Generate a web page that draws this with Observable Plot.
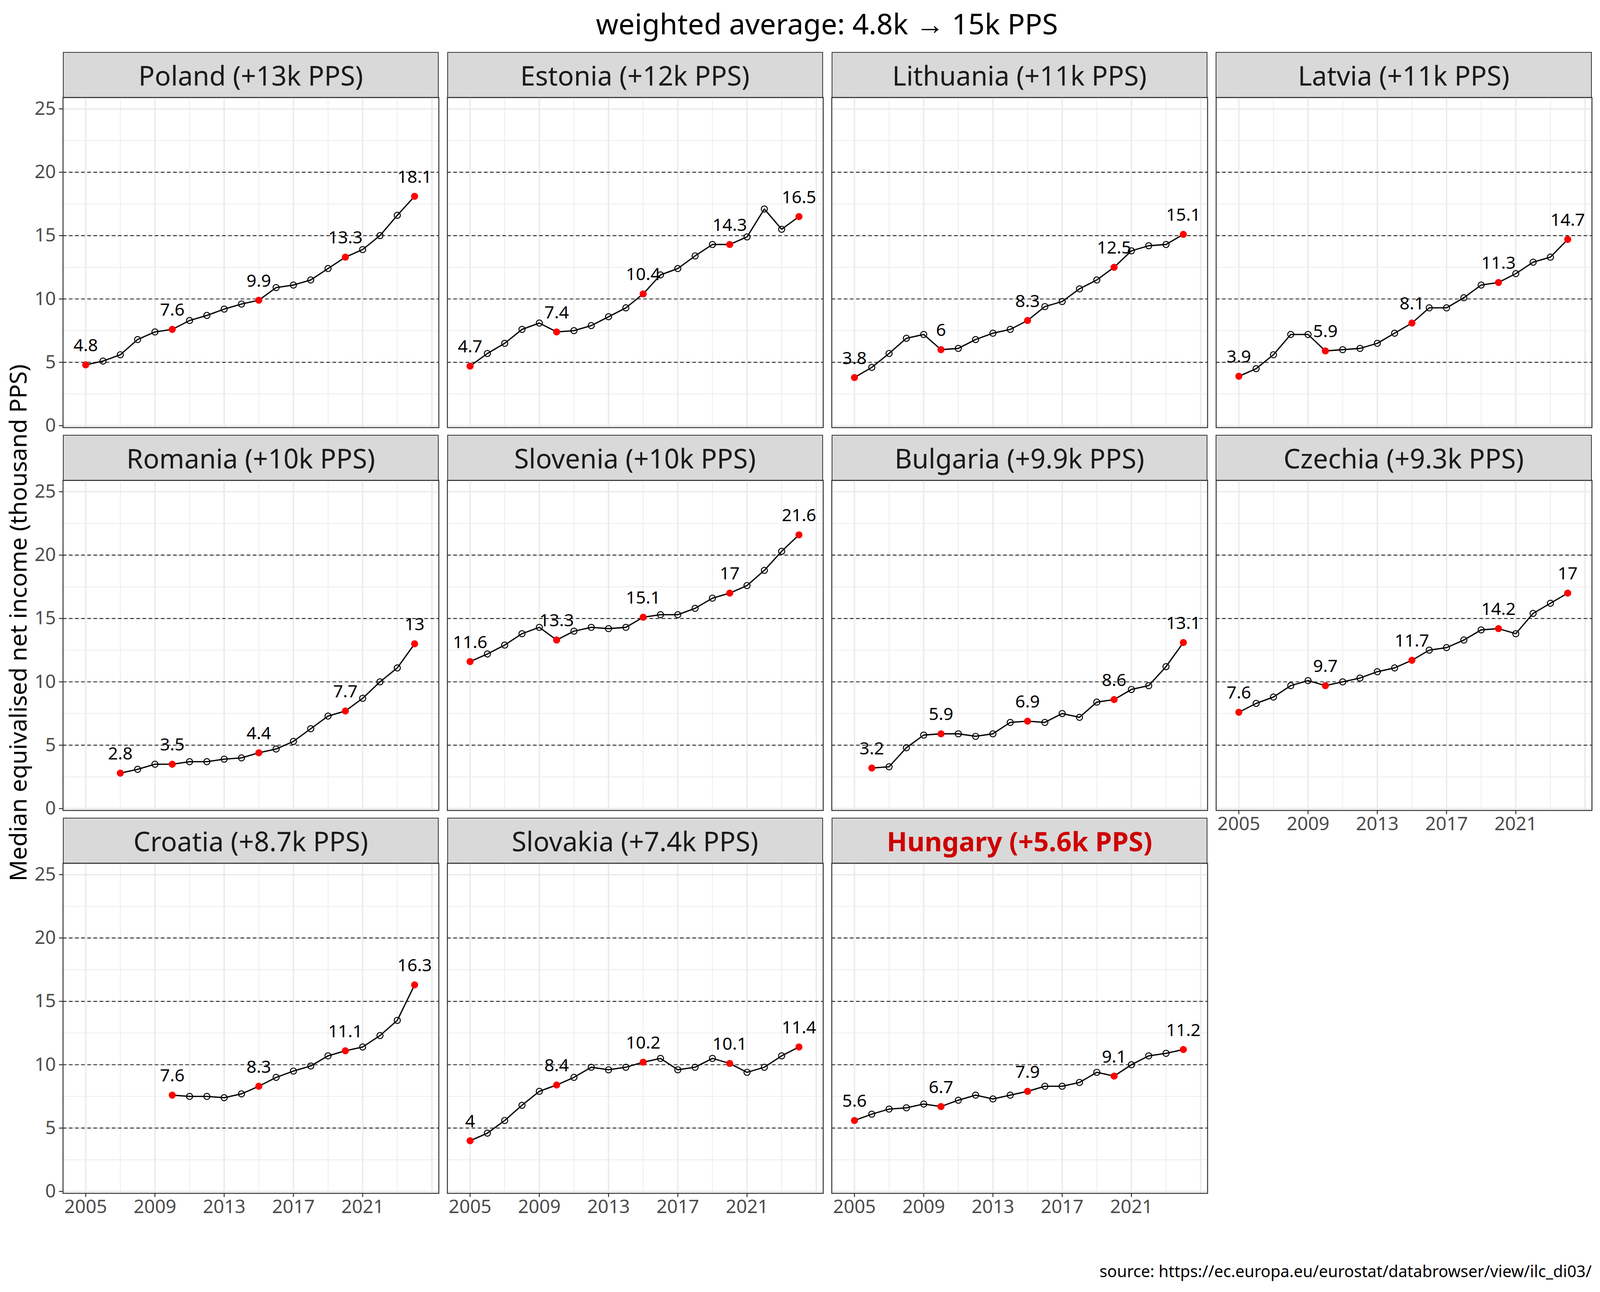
<!DOCTYPE html>
<html><head><meta charset="utf-8">
<script src="https://cdn.jsdelivr.net/npm/d3@7"></script>
<script src="https://cdn.jsdelivr.net/npm/@observablehq/plot@0.6"></script>
<style>
html,body{margin:0;padding:0;background:#fff;overflow:hidden;}
#chart{position:relative;background:#fff;font-family:"Noto Sans",sans-serif;overflow:hidden;}
.strip{position:absolute;background:#D9D9D9;border-style:solid;border-color:#333;box-sizing:border-box;display:flex;align-items:center;justify-content:center;color:#1A1A1A;white-space:nowrap;}
.txt{position:absolute;white-space:nowrap;line-height:1;}
.panel{position:absolute;}
</style></head><body><div id="chart"></div>
<script>
// ---- data (thousand PPS), years 2005..2024; null = no data ----
const years = [2005,2006,2007,2008,2009,2010,2011,2012,2013,2014,2015,2016,2017,2018,2019,2020,2021,2022,2023,2024];
const poland    = [4.8,5.1,5.6,6.8,7.4,7.6,8.3,8.7,9.2,9.6,9.9,10.9,11.1,11.5,12.4,13.3,13.9,15.0,16.6,18.1];
const estonia   = [4.7,5.7,6.5,7.6,8.1,7.4,7.5,7.9,8.6,9.3,10.4,11.9,12.4,13.4,14.3,14.3,14.9,17.1,15.5,16.5];
const lithuania = [3.8,4.6,5.7,6.9,7.2,6.0,6.1,6.8,7.3,7.6,8.3,9.4,9.8,10.8,11.5,12.5,13.8,14.2,14.3,15.1];
const latvia    = [3.9,4.5,5.6,7.2,7.2,5.9,6.0,6.1,6.5,7.3,8.1,9.3,9.3,10.1,11.1,11.3,12.0,12.9,13.3,14.7];
const romania   = [null,null,2.8,3.1,3.5,3.5,3.7,3.7,3.9,4.0,4.4,4.7,5.3,6.3,7.3,7.7,8.7,10.0,11.1,13.0];
const slovenia  = [11.6,12.2,12.9,13.8,14.3,13.3,14.0,14.3,14.2,14.3,15.1,15.3,15.3,15.8,16.6,17.0,17.6,18.8,20.3,21.6];
const bulgaria  = [null,3.2,3.3,4.8,5.8,5.9,5.9,5.7,5.9,6.8,6.9,6.8,7.5,7.2,8.4,8.6,9.4,9.7,11.2,13.1];
const czechia   = [7.6,8.3,8.8,9.7,10.1,9.7,10.0,10.3,10.8,11.1,11.7,12.5,12.7,13.3,14.1,14.2,13.8,15.4,16.2,17.0];
const croatia   = [null,null,null,null,null,7.6,7.5,7.5,7.4,7.7,8.3,9.0,9.5,9.9,10.7,11.1,11.4,12.3,13.5,16.3];
const slovakia  = [4.0,4.6,5.6,6.8,7.9,8.4,9.0,9.8,9.6,9.8,10.2,10.5,9.6,9.8,10.5,10.1,9.4,9.8,10.7,11.4];
const hungary   = [5.6,6.1,6.5,6.6,6.9,6.7,7.2,7.6,7.3,7.6,7.9,8.3,8.3,8.6,9.4,9.1,10.0,10.7,10.9,11.2];

const countryNames = ["Poland","Estonia","Lithuania","Latvia","Romania","Slovenia","Bulgaria","Czechia","Croatia","Slovakia","Hungary"];
const gains = ["+13k","+12k","+11k","+11k","+10k","+10k","+9.9k","+9.3k","+8.7k","+7.4k","+5.6k"];
const series = [poland,estonia,lithuania,latvia,romania,slovenia,bulgaria,czechia,croatia,slovakia,hungary];
const highlightCountry = "Hungary";

const xTicks = [2005,2009,2013,2017,2021];
const xMajorGrid = [2005,2009,2013,2017,2021,2025];
const xMinorGrid = [2007,2011,2015,2019,2023];
const yTicks = [0,5,10,15,20,25];
const yMinorGrid = [2.5,7.5,12.5,17.5,22.5];
const dashedLevels = [5,10,15,20];

const titleText = "weighted average: 4.8k \u2192 15k PPS";
const yTitle = "Median equivalised net income (thousand PPS)";
const caption = "source: https://ec.europa.eu/eurostat/databrowser/view/ilc_di03/";

// ---- layout: designed on a 4960x3307 canvas, mapped onto the actual viewport ----
const chart = document.getElementById("chart");
const VW = window.innerWidth || 4960, VH = window.innerHeight || 3307;
const sx = VW / 4960, sy = VH / 3307, sf = Math.min(sx, sy);
const X = v => v * sx, Y = v => v * sy;
chart.style.width = VW + "px"; chart.style.height = VH + "px";

const PW = 1165, PH = 845, STRIP = 118;
const colLeft = [195, 1386, 2578, 3769];
const rowTop = [133, 1113, 2093];
const ML = 110, MR = 20, MT = 20, MB = 110;

function addText(txt, css){
  const d = document.createElement("div");
  d.className = "txt"; d.textContent = txt;
  Object.assign(d.style, css);
  chart.appendChild(d);
  return d;
}

const titleFs = 89 * sf, capFs = 50 * sf, yFs = 73 * sf;
addText(titleText, {left: X(195) + "px", width: X(4737) + "px", textAlign: "center", top: (Y(88) - 0.888 * titleFs) + "px", fontSize: titleFs + "px", color: "#000"});
addText(caption, {right: X(26) + "px", top: (Y(3270) - 0.888 * capFs) + "px", fontSize: capFs + "px", color: "#000"});
addText(yTitle, {left: X(54) + "px", top: Y(1594) + "px", fontSize: yFs + "px", color: "#000", transform: "translate(-50%,-50%) rotate(-90deg)"});

series.forEach((arr, i) => {
  const col = i % 4, row = Math.floor(i / 4);
  const name = countryNames[i];
  const data = years.map((y, j) => ({year: y, value: arr[j]})).filter(d => d.value != null);
  const first = data[0].year, last = data[data.length - 1].year;
  const hi = data.filter(d => d.year === first || d.year === last || d.year % 5 === 0);
  const showY = col === 0;
  const showX = row === 2 || (row === 1 && col === 3);

  const strip = document.createElement("div");
  strip.className = "strip";
  strip.textContent = `${name} (${gains[i]} PPS)`;
  Object.assign(strip.style, {left: X(colLeft[col]) + "px", top: Y(rowTop[row]) + "px", width: X(PW) + "px", height: Y(STRIP) + "px", borderWidth: (3 * sf) + "px", fontSize: (83 * sf) + "px"});
  if (name === highlightCountry) { strip.style.color = "#CD0000"; strip.style.fontWeight = "bold"; }
  chart.appendChild(strip);

  const marks = [
    Plot.ruleY(yMinorGrid, {stroke: "#EBEBEB", strokeWidth: 2.2 * sf}),
    Plot.ruleX(xMinorGrid, {stroke: "#EBEBEB", strokeWidth: 2.2 * sf}),
    Plot.ruleY(yTicks, {stroke: "#EBEBEB", strokeWidth: 4.4 * sf}),
    Plot.ruleX(xMajorGrid, {stroke: "#EBEBEB", strokeWidth: 4.4 * sf}),
    Plot.ruleY(dashedLevels, {stroke: "#222", strokeWidth: 2.6 * sf, strokeDasharray: `${11 * sf},${8 * sf}`}),
    Plot.line(data, {x: "year", y: "value", stroke: "black", strokeWidth: 4 * sf}),
    Plot.dot(data.filter(d => !hi.includes(d)), {x: "year", y: "value", r: 9.5 * sf, stroke: "black", strokeWidth: 3 * sf, fill: "none"}),
    Plot.dot(hi, {x: "year", y: "value", r: 11 * sf, fill: "#FF0000", stroke: "none"}),
    Plot.text(hi, {x: "year", y: "value", text: d => String(d.value), dy: -54 * Math.sqrt(sx * sy), fill: "black", fontSize: 54 * sf, fontFamily: "Noto Sans"}),
    Plot.frame({stroke: "#333333", strokeWidth: 3 * sf})
  ];
  if (showY) marks.push(Plot.axisY(yTicks, {tickSize: 12 * sf, tickPadding: 10 * sf, stroke: "#333333", strokeWidth: 3 * sf, fill: "#4D4D4D", fontSize: 58 * sf, label: null}));
  if (showX) marks.push(Plot.axisX(xTicks, {tickSize: 12 * sf, tickPadding: 8 * sf, stroke: "#333333", strokeWidth: 3 * sf, fill: "#4D4D4D", fontSize: 58 * sf, label: null, tickFormat: d => String(d)}));

  const svg = Plot.plot({
    width: X(PW) + X(ML) + X(MR), height: Y(PH) + Y(MT) + Y(MB),
    marginLeft: X(ML), marginRight: X(MR), marginTop: Y(MT), marginBottom: Y(MB),
    x: {domain: [2003.69, 2025.4], ...(showX ? {} : {axis: null})},
    y: {domain: [-0.15, 25.9], ...(showY ? {} : {axis: null})},
    style: {fontFamily: "Noto Sans", background: "transparent", overflow: "visible"},
    marks
  });
  svg.classList.add("panel");
  svg.style.left = (X(colLeft[col]) - X(ML)) + "px";
  svg.style.top = (Y(rowTop[row] + STRIP) - 3 * sf - Y(MT)) + "px";
  chart.appendChild(svg);
});
</script></body></html>
